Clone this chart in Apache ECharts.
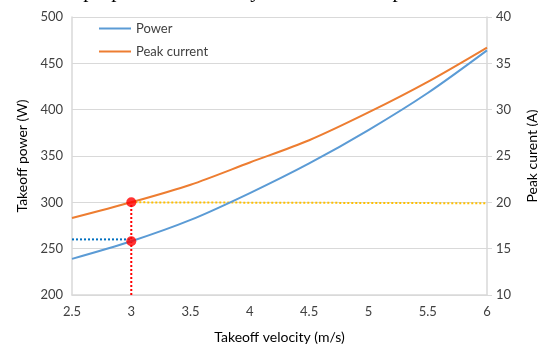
<!DOCTYPE html>
<html><head><meta charset="utf-8">
<script src="https://cdn.jsdelivr.net/npm/echarts@6/dist/echarts.min.js"></script>
<style>html,body{margin:0;padding:0;background:#fff}#c{width:538px;height:345px}</style>
</head><body><div id="c"></div>
<script>
const velocity = [2.5, 3, 3.5, 4, 4.5, 5, 5.5, 6];
const power = [239, 258, 281, 310, 342, 378, 418, 464];
const peakCurrent = [18.3, 20, 21.9, 24.3, 26.7, 29.7, 33, 36.7];
const blueGuide = [[2.5, 260], [3, 260]];
const redGuide = [[3, 200], [3, 300]];
const yellowGuide = [[3, 20], [6, 19.9]];
const markPoints = [[3, 258], [3, 300]];
const xTicks = {min: 2.5, max: 6, interval: 0.5};
const leftTicks = {min: 200, max: 500, interval: 50};
const rightTicks = {min: 10, max: 40, interval: 5};
const headline = 'propulsive efficiency can reduce the peak current.';

const font = 'Lato, "Open Sans", sans-serif';
const chart = echarts.init(document.getElementById('c'), null, {renderer: 'canvas'});
chart.setOption({
  animation: false,
  textStyle: {fontFamily: font},
  graphic: [{
    type: 'text', right: 36, top: -19,
    style: {text: headline, font: '21px "Liberation Serif", serif', fill: '#000'}
  }],
  grid: {left: 72, right: 51, top: 17, bottom: 50, containLabel: false, outerBoundsMode: 'none'},
  legend: {
    orient: 'vertical', left: 94, top: 17, itemGap: 10,
    itemWidth: 32, itemHeight: 2, icon: 'rect',
    textStyle: {fontSize: 13, color: '#404040', fontFamily: font},
    data: ['Power', 'Peak current']
  },
  xAxis: {
    type: 'value', min: xTicks.min, max: xTicks.max, interval: xTicks.interval,
    name: 'Takeoff velocity (m/s)', nameLocation: 'middle', nameGap: 35,
    nameTextStyle: {fontSize: 14, color: '#000', fontFamily: font},
    axisLine: {show: true, lineStyle: {color: '#d9d9d9', width: 1.5}},
    axisTick: {show: false},
    splitLine: {show: false},
    axisLabel: {fontSize: 13, color: '#404040', margin: 10, fontFamily: font}
  },
  yAxis: [{
    type: 'value', min: leftTicks.min, max: leftTicks.max, interval: leftTicks.interval,
    name: 'Takeoff power (W)', nameLocation: 'middle', nameGap: 40, nameRotate: 90,
    nameTextStyle: {fontSize: 14, color: '#000', fontFamily: font},
    axisLine: {show: true, lineStyle: {color: '#d9d9d9', width: 1.5}},
    axisTick: {show: false},
    splitLine: {show: true, lineStyle: {color: '#d9d9d9', width: 1}},
    axisLabel: {fontSize: 13, color: '#404040', margin: 9, fontFamily: font}
  }, {
    type: 'value', min: rightTicks.min, max: rightTicks.max, interval: rightTicks.interval,
    position: 'right',
    name: 'Peak curent (A)', nameLocation: 'middle', nameGap: 38, nameRotate: 90,
    nameTextStyle: {fontSize: 14, color: '#000', fontFamily: font},
    axisLine: {show: true, lineStyle: {color: '#d9d9d9', width: 1.5}},
    axisTick: {show: true, length: 5, lineStyle: {color: '#d9d9d9'}},
    splitLine: {show: false},
    axisLabel: {fontSize: 13, color: '#404040', margin: 9, fontFamily: font}
  }],
  series: [
    {name: 'Power', type: 'line', yAxisIndex: 0, smooth: 0.3, showSymbol: false,
     data: velocity.map((v, i) => [v, power[i]]),
     lineStyle: {color: '#5b9bd5', width: 2}, itemStyle: {color: '#5b9bd5'}, z: 3},
    {name: 'Peak current', type: 'line', yAxisIndex: 1, smooth: 0.3, showSymbol: false,
     data: velocity.map((v, i) => [v, peakCurrent[i]]),
     lineStyle: {color: '#ed7d31', width: 2}, itemStyle: {color: '#ed7d31'}, z: 3},
    {name: 'blueGuide', type: 'line', yAxisIndex: 0, showSymbol: false, data: blueGuide,
     lineStyle: {color: '#0070c0', width: 2, type: [2, 2]}, z: 2},
    {name: 'redGuide', type: 'line', yAxisIndex: 0, showSymbol: false, data: redGuide,
     lineStyle: {color: '#ff0000', width: 2, type: [2, 2]}, z: 2},
    {name: 'yellowGuide', type: 'line', yAxisIndex: 1, showSymbol: false, data: yellowGuide,
     lineStyle: {color: '#ffc000', width: 2, type: [2, 2]}, z: 2},
    {name: 'points', type: 'scatter', yAxisIndex: 0, data: markPoints, symbolSize: 10,
     itemStyle: {color: '#ff0000'}, z: 5}
  ]
});
</script></body></html>
